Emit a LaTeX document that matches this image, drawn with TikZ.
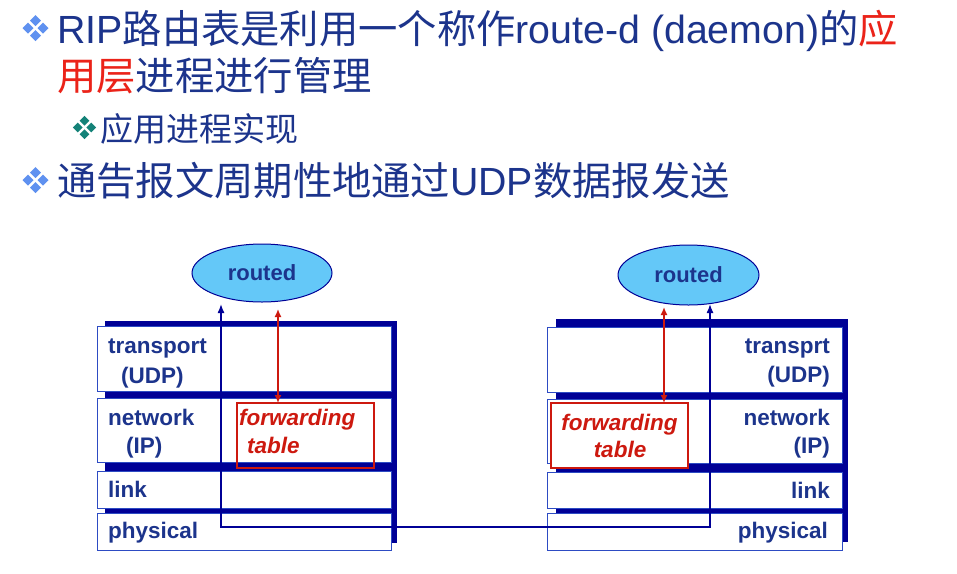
\documentclass[tikz,border=0pt]{standalone}
\usepackage{fontspec}
\setmainfont{Liberation Sans}
\newfontfamily\cjk{Noto Sans CJK SC}
\usetikzlibrary{shapes.geometric,arrows.meta}
\definecolor{navy}{RGB}{0,0,150}
\definecolor{txtblue}{RGB}{28,52,140}
\definecolor{boxblue}{RGB}{45,75,195}
\definecolor{skyfill}{RGB}{100,200,248}
\definecolor{tred}{RGB}{235,35,25}
\definecolor{fred}{RGB}{205,25,15}
\definecolor{bulblue}{RGB}{95,145,240}
\definecolor{bulteal}{RGB}{20,130,120}
\newcommand\mybul[4]{%
  \begin{scope}[shift={(#1,#2)},scale=#3]
    \foreach \dx/\dy in {-7.5/0,7.5/0,0/-7.5,0/7.5}{%
      \fill[#4] (\dx-5.5,\dy) -- (\dx,\dy-5.5) -- (\dx+5.5,\dy) -- (\dx,\dy+5.5) -- cycle;}
  \end{scope}}
\begin{document}
\begin{tikzpicture}[x=1pt,y=-1pt,
  title/.style={anchor=base west,inner sep=0pt,text=txtblue,font=\fontsize{39.3}{39.3}\selectfont},
  sub/.style={anchor=base west,inner sep=0pt,text=txtblue,font=\fontsize{33}{33}\selectfont},
  layer/.style={draw=boxblue,line width=1pt,fill=white,anchor=north west,inner sep=0pt,outer sep=0pt},
  shadowbox/.style={fill=navy},
  lbl/.style={inner sep=0pt,text=txtblue,font=\fontsize{22.5}{22.5}\selectfont\bfseries},
  fwd/.style={draw=fred,line width=1.3pt,anchor=north west,inner sep=0pt,outer sep=0pt,minimum width=137pt,minimum height=65pt},
  fwdtxt/.style={inner sep=0pt,text=fred,font=\fontsize{22.5}{22.5}\selectfont\bfseries\itshape},
  routedsty/.style={ellipse,draw=navy,line width=1pt,fill=skyfill,text=txtblue,inner sep=0pt,
    font=\fontsize{22}{22}\selectfont\bfseries},
  bluelink/.style={draw=navy,line width=1.4pt,{Latex[length=9pt,width=7pt]}-{Latex[length=9pt,width=7pt]}},
  redlink/.style={draw=fred,line width=1.5pt,{Latex[length=8pt,width=7pt]}-{Latex[length=8pt,width=7pt]}}
]
\useasboundingbox[fill=white] (0,0) rectangle (957,573);

% ---- title text ----
\mybul{35.5}{28}{1}{bulblue}
\node[title] (t1) at (57,43) {RIP{\cjk 路由表是利用一个称作}route-d (daemon){\cjk 的\textcolor{tred}{应}}};
\node[title] (t2) at (57,90) {{\cjk\textcolor{tred}{用层}进程进行管理}};
\mybul{84.5}{127.5}{0.9}{bulteal}
\node[sub] (t3) at (100,141) {{\cjk 应用进程实现}};
\mybul{35.5}{180}{1}{bulblue}
\node[title] (t4) at (57,195) {{\cjk 通告报文周期性地通过}UDP{\cjk 数据报发送}};

% ---- left stack ----
\fill[shadowbox] (105,321) rectangle (397,543);
\node[layer,minimum width=294pt,minimum height=65pt] (trL) at (97,326) {};
\node[layer,minimum width=294pt,minimum height=64pt] (nwL) at (97,398) {};
\node[layer,minimum width=294pt,minimum height=37pt] (lkL) at (97,471) {};
\node[layer,minimum width=294pt,minimum height=37pt] (phL) at (97,513) {};
\node[fwd] (fwdL) at (237,403) {};
\node[lbl,anchor=base west] (trLa) at (108,353) {transport};
\node[lbl,anchor=base west] (trLb) at (121,383) {(UDP)};
\node[lbl,anchor=base west] (nwLa) at (108,425) {network};
\node[lbl,anchor=base west] (nwLb) at (126,453) {(IP)};
\node[lbl,anchor=base west] (lkLa) at (108,497) {link};
\node[lbl,anchor=base west] (phLa) at (108,538) {physical};
\node[fwdtxt,anchor=base west] (fwLa) at (239,425) {forwarding};
\node[fwdtxt,anchor=base west] (fwLb) at (247,453) {table};
\node[routedsty,minimum width=140pt,minimum height=58pt] (routedL) at (262,273) {routed};

% ---- right stack ----
\fill[shadowbox] (556,319) rectangle (848,542);
\node[layer,minimum width=295pt,minimum height=65pt] (trR) at (547,327) {};
\node[layer,minimum width=295pt,minimum height=64pt] (nwR) at (547,399) {};
\node[layer,minimum width=295pt,minimum height=36pt] (lkR) at (547,472) {};
\node[layer,minimum width=295pt,minimum height=37pt] (phR) at (547,513) {};
\node[fwd,fill=white] (fwdR) at (551,403) {};
\node[lbl,anchor=base east] (trRa) at (830,353) {transprt};
\node[lbl,anchor=base east] (trRb) at (830,382) {(UDP)};
\node[lbl,anchor=base east] (nwRa) at (830,425) {network};
\node[lbl,anchor=base east] (nwRb) at (830,453) {(IP)};
\node[lbl,anchor=base east] (lkRa) at (830,498) {link};
\node[lbl,anchor=base east] (phRa) at (828,538) {physical};
\node[fwdtxt,anchor=base] (fwRa) at (619.5,430) {forwarding};
\node[fwdtxt,anchor=base] (fwRb) at (620,457) {table};
\node[routedsty,minimum width=141pt,minimum height=60pt] (routedR) at (688.5,275) {routed};

% ---- connectors ----
\coordinate (tipL) at (221,304);
\coordinate (cornL) at (221,527);
\coordinate (cornR) at (710,527);
\coordinate (tipR) at (710,304);
\draw[bluelink] (tipL) -- (cornL) -- (cornR) -- (tipR);
\coordinate (rtopL) at (278,309);
\draw[redlink] (rtopL) -- (rtopL |- fwdL.north);
\coordinate (rtopR) at (664,307);
\draw[redlink] (rtopR) -- (rtopR |- fwdR.north);
\end{tikzpicture}
\end{document}
